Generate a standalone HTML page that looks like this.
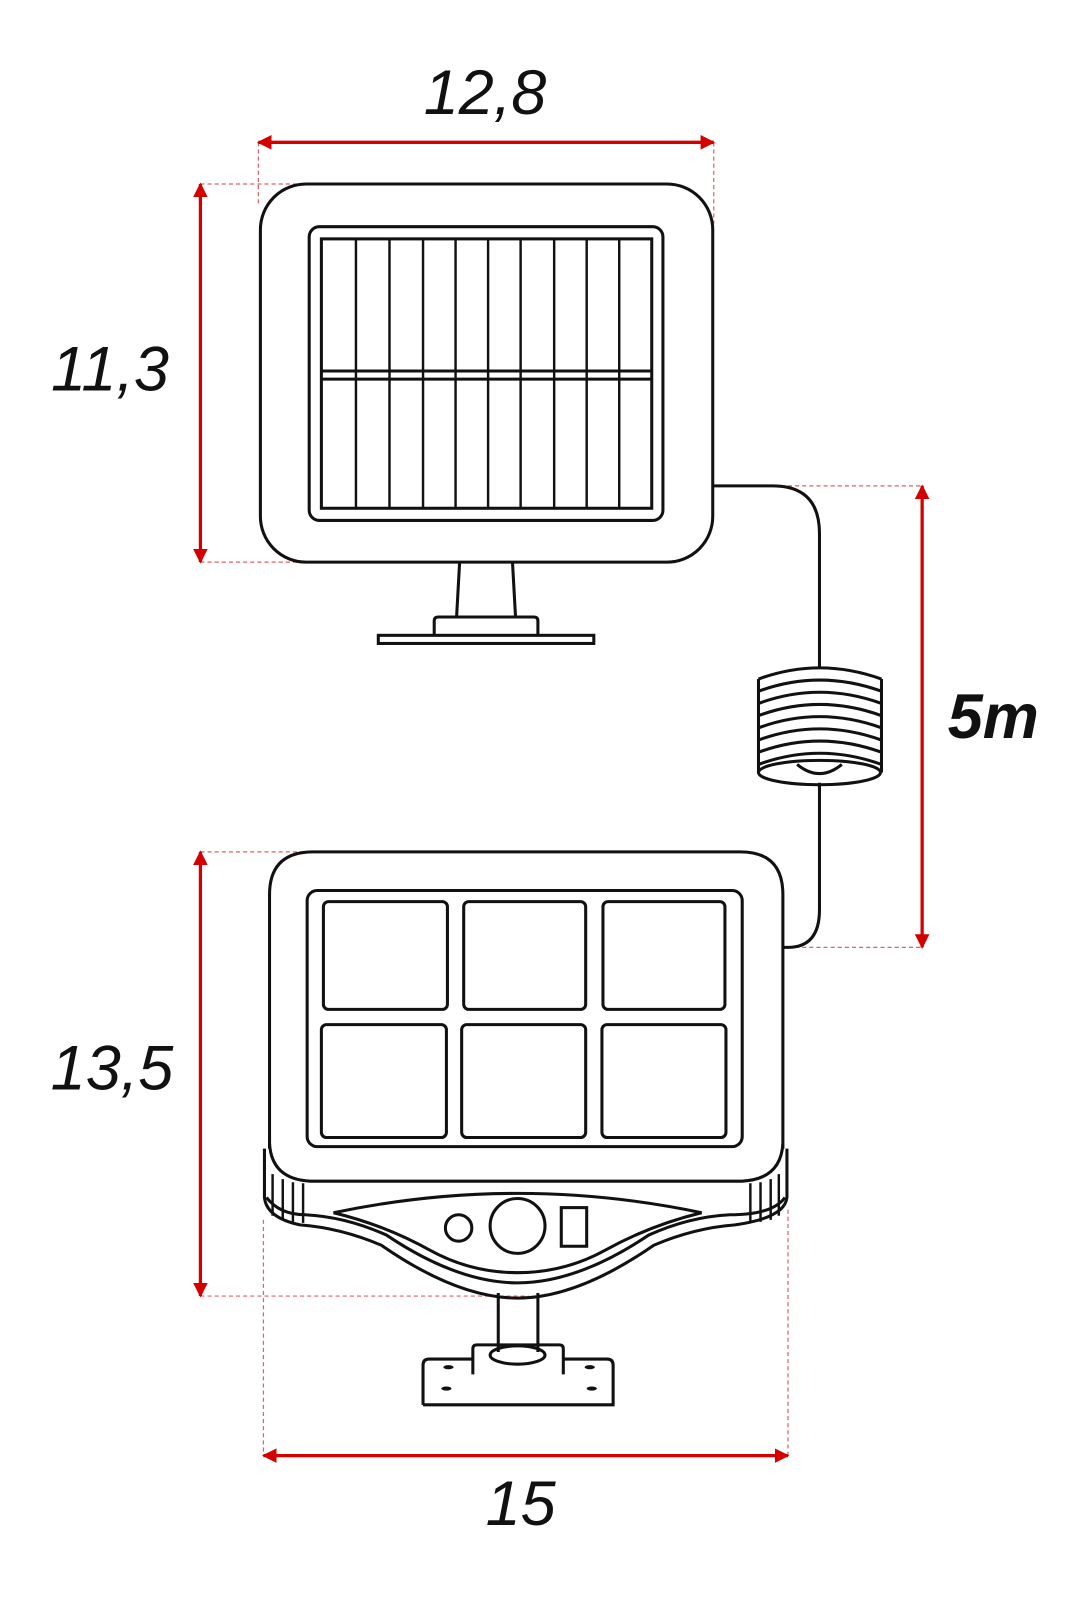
<!DOCTYPE html>
<html><head><style>
html,body{margin:0;padding:0;background:#fff;width:1088px;height:1600px;overflow:hidden}
svg{display:block}
text{font-family:"Liberation Sans",sans-serif;font-style:italic;fill:#111}
</style></head><body>
<svg width="1088" height="1600" viewBox="0 0 1070 1574" xmlns="http://www.w3.org/2000/svg">
<defs>
<marker id="a" viewBox="0 0 10 10" refX="9" refY="5" markerWidth="4.5" markerHeight="4.5" orient="auto-start-reverse"><path d="M0,0L10,5L0,10z" fill="#d40000"/></marker>
</defs>
<g stroke="#e06060" stroke-width="1.2" stroke-dasharray="4,3" fill="none">
<line x1="254" y1="140" x2="254" y2="200"/><line x1="702" y1="140" x2="702" y2="220"/>
<line x1="197" y1="181" x2="300" y2="181"/><line x1="197" y1="553" x2="300" y2="553"/>
<line x1="705" y1="478" x2="907" y2="478"/><line x1="775" y1="932" x2="907" y2="932"/>
<line x1="197" y1="838" x2="300" y2="838"/><line x1="197" y1="1275" x2="520" y2="1275"/>
<line x1="259" y1="1200" x2="259" y2="1432"/><line x1="775" y1="1190" x2="775" y2="1432"/>
</g>
<g stroke="#d40000" stroke-width="3.2" fill="none" marker-start="url(#a)" marker-end="url(#a)">
<line x1="254" y1="140" x2="702" y2="140"/>
<line x1="197" y1="181" x2="197" y2="553"/>
<line x1="907" y1="478" x2="907" y2="932"/>
<line x1="197" y1="838" x2="197" y2="1275"/>
<line x1="259" y1="1432" x2="775" y2="1432"/>
</g>
<text x="477" y="112" font-size="62" text-anchor="middle">12,8</text>
<text x="108" y="384" font-size="62" text-anchor="middle">11,3</text>
<text x="977" y="726" font-size="62" font-weight="bold" text-anchor="middle">5m</text>
<text x="110" y="1072" font-size="62" text-anchor="middle">13,5</text>
<text x="512" y="1500" font-size="62" text-anchor="middle">15</text>

<g stroke="#111" stroke-width="3" fill="none">
<!-- top panel -->
<rect x="256" y="181" width="445" height="372" rx="45"/>
<rect x="304" y="223" width="348" height="289" rx="10"/>
<rect x="316" y="235" width="325" height="265"/>
<line x1="316" y1="365" x2="641" y2="365"/><line x1="316" y1="373" x2="641" y2="373"/>
<g stroke-width="2.4">
<line x1="350" y1="235" x2="350" y2="500"/><line x1="383" y1="235" x2="383" y2="500"/>
<line x1="416" y1="235" x2="416" y2="500"/><line x1="448" y1="235" x2="448" y2="500"/>
<line x1="480" y1="235" x2="480" y2="500"/><line x1="512" y1="235" x2="512" y2="500"/>
<line x1="545" y1="235" x2="545" y2="500"/><line x1="577" y1="235" x2="577" y2="500"/>
<line x1="609" y1="235" x2="609" y2="500"/>
</g>
<path d="M452,553L449,607M504,553L507,607"/>
<path d="M427,625V611Q427,607 431,607H525Q529,607 529,611V625"/>
<rect x="372" y="625" width="212" height="8"/>
<!-- cable -->
<path d="M701,478H760Q806,478 806,525V657"/>
<path d="M806,770V895Q806,932 775,932H770"/>
<path d="M746,668V760M867,668V760"/>
<ellipse cx="806" cy="760" rx="60" ry="12"/>
<path d="M746,668Q806,646 867,668"/>
<path d="M746,680Q806,658 867,680M746,692Q806,670 867,692M746,704Q806,682 867,704M746,716Q806,694 867,716M746,728Q806,706 867,728M746,740Q806,718 867,740M746,752Q806,730 867,752"/>
<path d="M784,752Q806,770 828,752"/>
<!-- bottom device -->
<path d="M265,1130V880Q265,838 308,838H728Q770,838 770,880V1130"/>
<path d="M265,1125Q267,1160 305,1162H730Q768,1160 770,1125"/>
<path d="M260,1130V1178Q262,1198 295,1205Q335,1208 375,1225Q450,1277 509,1277Q568,1277 643,1225Q683,1208 723,1205Q772,1198 774,1178V1130"/>
<path d="M262,1178Q275,1195 300,1195Q340,1197 380,1215Q450,1262 509,1262Q568,1262 638,1215Q678,1197 718,1195Q760,1195 772,1178"/>
<path d="M328,1193Q509,1155 690,1193Q640,1205 595,1230Q555,1252 509,1252Q463,1252 423,1230Q378,1205 328,1193Z"/>
<g stroke-width="2.4"><path d="M268,1155V1196M278,1160V1200M288,1163V1202M298,1164V1203M738,1164V1203M748,1163V1202M758,1160V1200M766,1155V1196"/></g>
<rect x="302" y="876" width="428" height="252" rx="10"/>
<rect x="318" y="887" width="122" height="106" rx="5"/><rect x="456" y="887" width="120" height="106" rx="5"/><rect x="593" y="887" width="120" height="106" rx="5"/>
<rect x="316" y="1008" width="123" height="111" rx="5"/><rect x="454" y="1008" width="122" height="111" rx="5"/><rect x="592" y="1008" width="122" height="111" rx="5"/>
<circle cx="451" cy="1208" r="13"/><circle cx="509" cy="1206" r="27"/>
<rect x="552" y="1188" width="25" height="38"/>
<path d="M490,1272V1330M529,1272V1330"/>
<ellipse cx="509" cy="1333" rx="27" ry="9"/>
<path d="M465,1352V1327Q465,1323 469,1323H550Q554,1323 554,1327V1352"/>
<path d="M416,1382V1343Q416,1337 422,1337H465M554,1337H597Q603,1337 603,1343V1382H416"/>
</g>
<g fill="#111"><ellipse cx="441" cy="1345" rx="5" ry="2"/><ellipse cx="439" cy="1366" rx="5" ry="2"/><ellipse cx="580" cy="1345" rx="5" ry="2"/><ellipse cx="582" cy="1366" rx="5" ry="2"/></g>
</svg>
</body></html>
